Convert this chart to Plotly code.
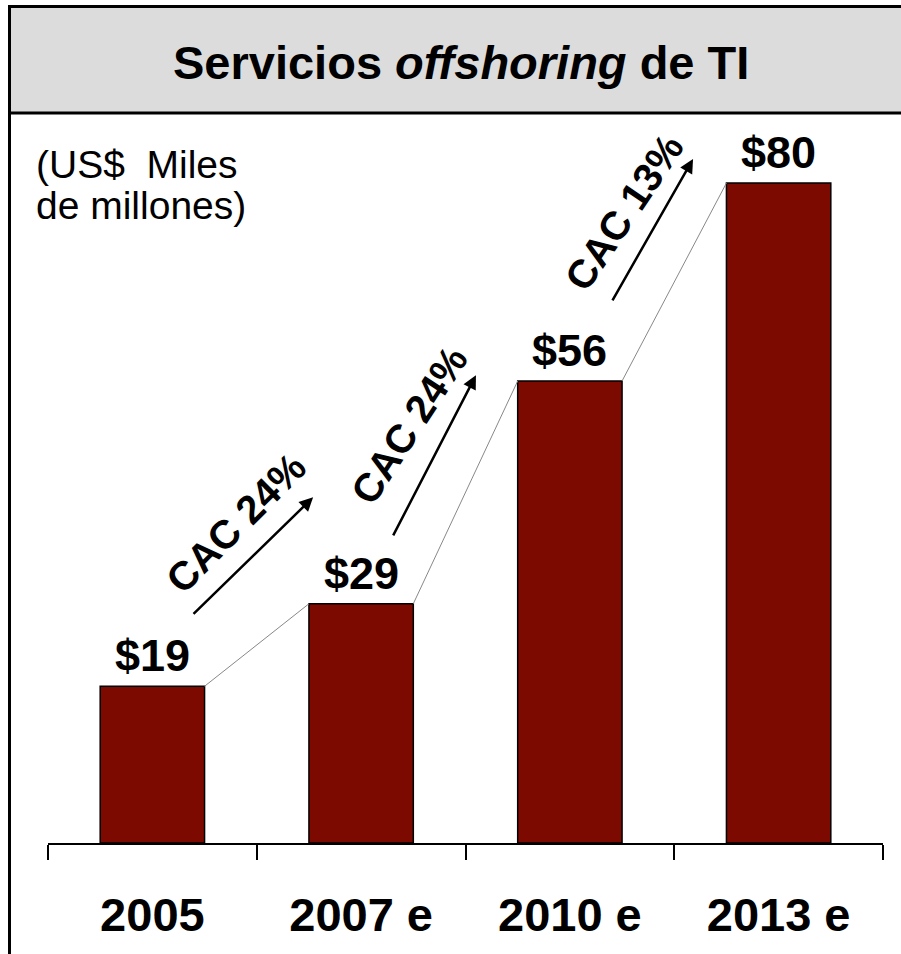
import plotly.graph_objects as go

# --- data -------------------------------------------------------------------
years = ["2005", "2007 e", "2010 e", "2013 e"]
values = [19, 29, 56, 80]
value_labels = ["$19", "$29", "$56", "$80"]
cac_labels = ["CAC 24%", "CAC 24%", "CAC 13%"]
unit_lines = ["(US$\u00a0\u00a0Miles", "de millones)"]

W, H = 901, 954
BAR = "#7d0a00"
FONT = "Liberation Sans, Arial, sans-serif"


def px(x):
    return x / W


def py(y):
    return 1 - y / H


fig = go.Figure(go.Bar(
    x=years, y=values, width=0.5,
    marker=dict(color=BAR, line=dict(color="black", width=1.5)),
    hoverinfo="skip",
))

# thin connectors between bar tops (right edge of bar i -> left edge of bar i+1)
for i in range(len(values) - 1):
    fig.add_shape(type="line", xref="x", yref="y",
                  x0=i + 0.25, y0=values[i], x1=i + 0.75, y1=values[i + 1],
                  line=dict(color="#888888", width=1))

# value labels on top of bars
for i, (v, t) in enumerate(zip(values, value_labels)):
    fig.add_annotation(x=i, y=v, text=f"<b>{t}</b>", showarrow=False,
                       yanchor="bottom", yshift=3,
                       font=dict(size=45, color="black", family=FONT))

# growth arrows + CAC labels
arrows = [  # (x0, y0, x1, y1) in data units
    (0.19, 27.6, 0.77, 41.9),
    (1.15, 37.1, 1.55, 56.7),
    (2.20, 65.6, 2.59, 82.9),
]
text_pos = [(0.40, 38.8, -45), (1.23, 50.7, -57), (2.26, 76.5, -56)]
for (x0, y0, x1, y1), (tx, ty, ang), lbl in zip(arrows, text_pos, cac_labels):
    fig.add_annotation(x=x1, y=y1, ax=x0, ay=y0, xref="x", yref="y",
                       axref="x", ayref="y", text="", showarrow=True,
                       arrowhead=2, arrowsize=1.1, arrowwidth=2.5,
                       arrowcolor="black")
    fig.add_annotation(x=tx, y=ty, text=f"<b>{lbl}</b>", showarrow=False,
                       textangle=ang, xanchor="center", yanchor="middle",
                       font=dict(size=40, color="black", family=FONT))

# banner + frame
fig.add_shape(type="rect", xref="paper", yref="paper",
              x0=px(9.5), x1=px(W + 20), y0=py(113), y1=py(6.5),
              fillcolor="#dcdcdc", line=dict(color="black", width=3))
fig.add_shape(type="line", xref="paper", yref="paper",
              x0=px(9.5), x1=px(9.5), y0=py(113), y1=py(H + 5),
              line=dict(color="black", width=3))
fig.add_annotation(xref="paper", yref="paper", x=px(461), y=py(62),
                   xanchor="center", yanchor="middle",
                   text="<b>Servicios <i>offshoring</i> de TI</b>",
                   showarrow=False,
                   font=dict(size=47, color="black", family=FONT))
for k, line in enumerate(unit_lines):
    fig.add_annotation(xref="paper", yref="paper", x=px(34), y=py(141 + 41 * k),
                       xanchor="left", yanchor="top", align="left",
                       text=line, showarrow=False,
                       font=dict(size=39, color="black", family=FONT))

fig.update_layout(
    width=W, height=H, autosize=False,
    margin=dict(l=0, r=0, t=0, b=0),
    paper_bgcolor="white", plot_bgcolor="white",
    showlegend=False, bargap=0.5,
    font=dict(family=FONT, color="black"),
)
fig.update_xaxes(
    domain=[px(48), px(883)], range=[-0.5, 3.5],
    showline=True, linecolor="black", linewidth=1.5,
    ticks="outside", tickson="boundaries", ticklen=15,
    tickcolor="black", tickwidth=1.5, ticklabelstandoff=30,
    tickfont=dict(size=47, family=FONT, color="black"),
    tickvals=years, ticktext=[f"<b>{y}</b>" for y in years],
    showgrid=False, zeroline=False, fixedrange=True,
)
plot_top, plot_bot = 113, 843
fig.update_yaxes(
    domain=[py(plot_bot), py(plot_top)],
    range=[0, (plot_bot - plot_top) / 8.25],
    visible=False, fixedrange=True,
)

fig.write_html("out.html", config={"displayModeBar": False},
               post_script="document.body.style.margin='0';")
